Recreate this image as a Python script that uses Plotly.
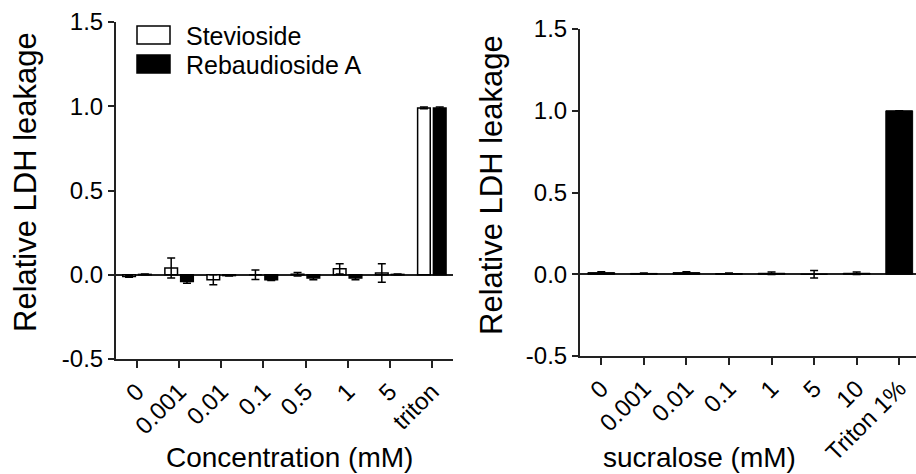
import plotly.graph_objects as go

# ---------------- data ----------------
cats_left = ["0", "0.001", "0.01", "0.1", "0.5", "1", "5", "triton"]
stevioside = [-0.01, 0.04, -0.03, 0.0, 0.003, 0.035, 0.01, 0.99]
stevioside_err = [0.005, 0.06, 0.03, 0.028, 0.01, 0.03, 0.055, 0.005]
rebaudioside = [0.002, -0.04, -0.005, -0.03, -0.02, -0.02, 0.002, 0.99]
rebaudioside_err = [0.002, 0.01, 0.002, 0.004, 0.01, 0.01, 0.002, 0.005]

cats_right = ["0", "0.001", "0.01", "0.1", "1", "5", "10", "Triton 1%"]
sucralose = [0.01, 0.005, 0.01, 0.004, 0.006, 0.0, 0.006, 1.0]
sucralose_err = [0.005, 0.003, 0.005, 0.003, 0.008, 0.023, 0.007, 0.0]

y_tickvals = [-0.5, 0.0, 0.5, 1.0, 1.5]
y_ticktext = ["-0.5", "0.0", "0.5", "1.0", "1.5"]

W, H = 916, 474
FONT = "Liberation Sans, Arial, sans-serif"
AX = "#222222"


def px(x):
    return x / W


def py(y):
    return 1 - y / H


fig = go.Figure()

err_style = dict(type="data", color="black", thickness=1.5, width=4)

fig.add_trace(go.Bar(
    x=cats_left, y=stevioside, name="Stevioside",
    offset=-0.34, width=0.30,
    marker=dict(color="white", line=dict(color="black", width=1.5)),
    error_y=dict(array=stevioside_err, **err_style),
    xaxis="x", yaxis="y", showlegend=False,
))
fig.add_trace(go.Bar(
    x=cats_left, y=rebaudioside, name="Rebaudioside A",
    offset=0.035, width=0.30,
    marker=dict(color="black", line=dict(color="black", width=1.5)),
    error_y=dict(array=rebaudioside_err, **err_style),
    xaxis="x", yaxis="y", showlegend=False,
))
fig.add_trace(go.Bar(
    x=cats_right, y=sucralose, name="sucralose",
    width=0.63,
    marker=dict(color="black", line=dict(color="black", width=1)),
    error_y=dict(array=sucralose_err, **err_style),
    xaxis="x2", yaxis="y2", showlegend=False,
))

xcommon = dict(type="category", showline=True, linecolor=AX, linewidth=2,
               ticks="outside", ticklen=7, tickwidth=2, tickcolor=AX,
               tickangle=-45, tickfont=dict(size=24, color="black"),
               showgrid=False, zeroline=False, automargin=False)
ycommon = dict(range=[-0.5, 1.5], tickvals=y_tickvals, ticktext=y_ticktext,
               showline=True, linecolor=AX, linewidth=2,
               ticks="outside", ticklen=6, tickwidth=2, tickcolor=AX,
               tickfont=dict(size=24, color="black"),
               showgrid=False, zeroline=True, zerolinecolor=AX,
               zerolinewidth=1.5, automargin=False)

fig.update_layout(
    width=W, height=H,
    margin=dict(l=0, r=0, t=0, b=0),
    paper_bgcolor="white", plot_bgcolor="white",
    font=dict(family=FONT, color="black"),
    barmode="overlay",
    xaxis=dict(domain=[px(116), px(453)], range=[-0.5, 7.5], anchor="y", **xcommon),
    yaxis=dict(domain=[py(359), py(22)], anchor="x", **ycommon),
    xaxis2=dict(domain=[px(580), 1.0], range=[-0.5, 7.5 - 4.5 / 42.5], anchor="y2", **xcommon),
    yaxis2=dict(domain=[py(356), py(29)], anchor="x2", **ycommon),
)

# legend (manual, matching the large swatches)
fig.add_shape(type="rect", xref="paper", yref="paper",
              x0=px(137), x1=px(170), y0=py(44), y1=py(26),
              line=dict(color="black", width=1.5), fillcolor="white")
fig.add_shape(type="rect", xref="paper", yref="paper",
              x0=px(137), x1=px(170), y0=py(73), y1=py(55),
              line=dict(color="black", width=1.5), fillcolor="black")

annos = [
    dict(text="Stevioside", x=px(184), y=py(36), xanchor="left", yanchor="middle",
         font=dict(size=25)),
    dict(text="Rebaudioside A", x=px(184), y=py(65), xanchor="left", yanchor="middle",
         font=dict(size=25)),
    dict(text="Relative LDH leakage", x=px(25), y=py(182), textangle=-90,
         xanchor="center", yanchor="middle", font=dict(size=31)),
    dict(text="Relative LDH leakage", x=px(491), y=py(185), textangle=-90,
         xanchor="center", yanchor="middle", font=dict(size=31)),
    dict(text="Concentration (mM)", x=px(289), y=py(457),
         xanchor="center", yanchor="middle", font=dict(size=28)),
    dict(text="sucralose (mM)", x=px(699), y=py(457),
         xanchor="center", yanchor="middle", font=dict(size=28)),
]
for a in annos:
    a.update(xref="paper", yref="paper", showarrow=False)
    fig.add_annotation(**a)

fig.write_html("out.html")
